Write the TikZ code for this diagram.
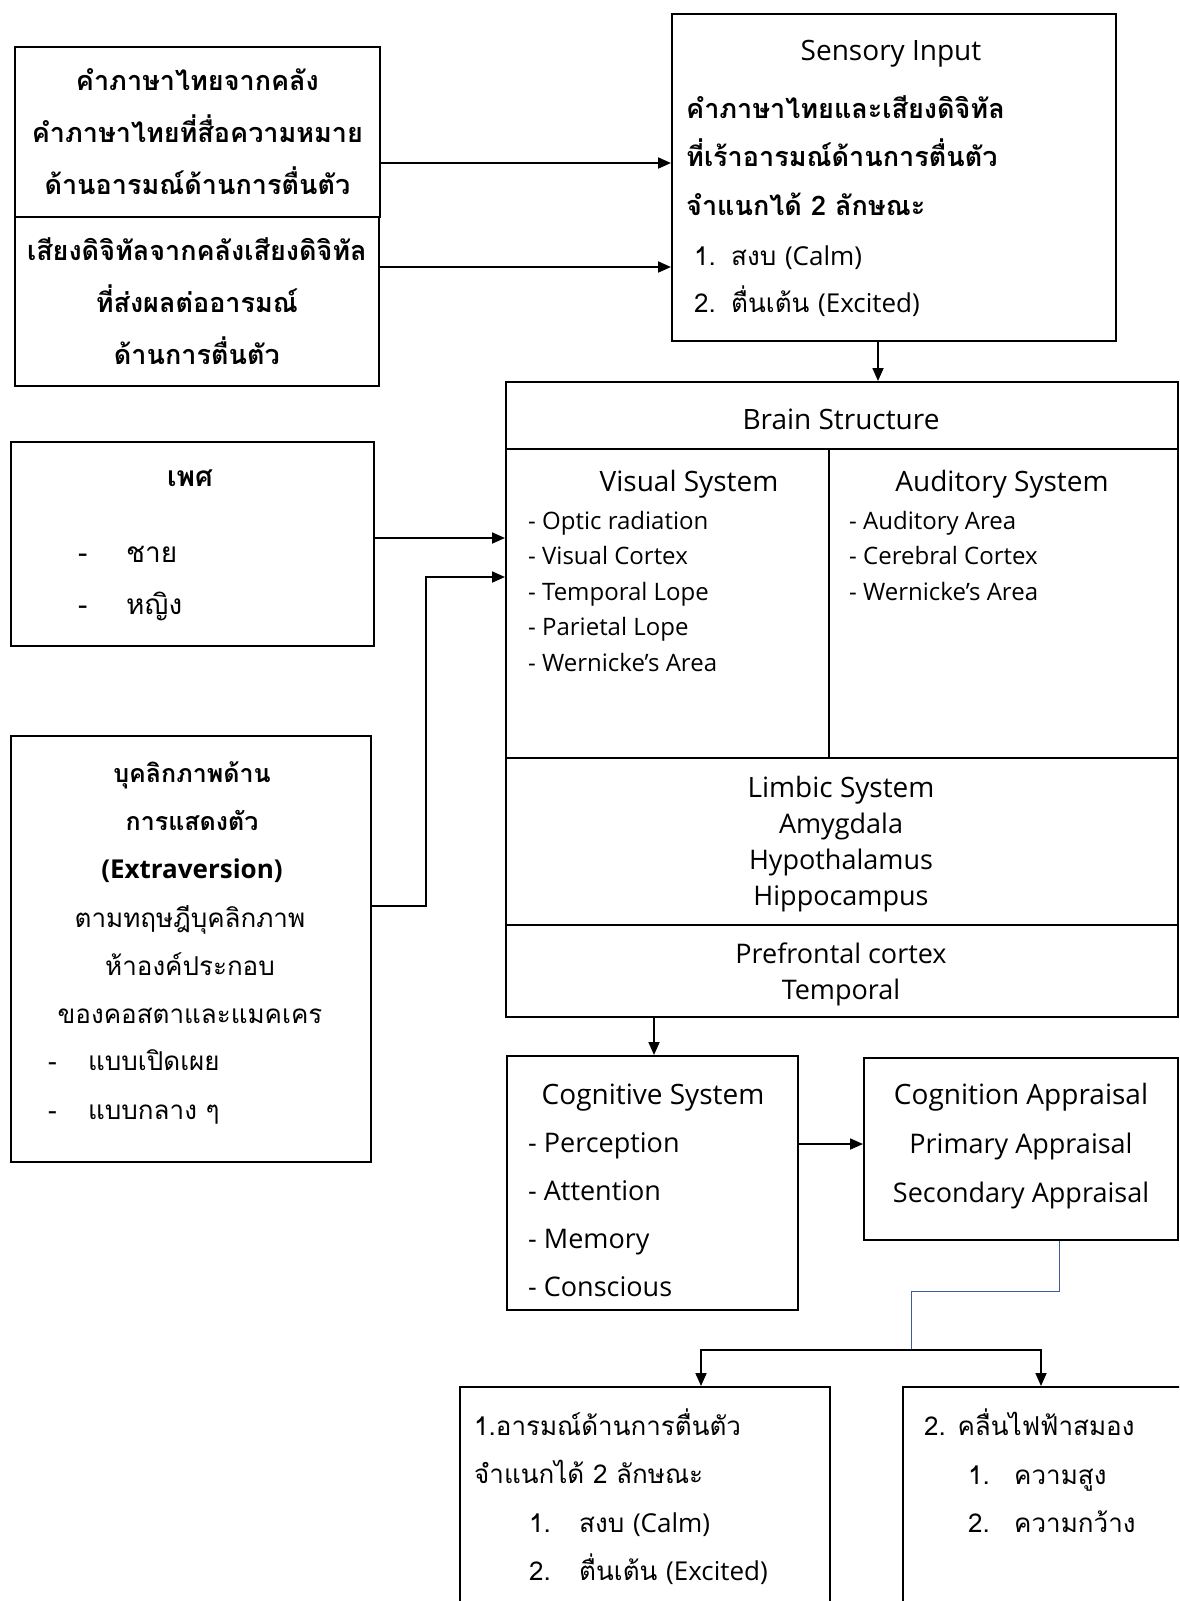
\documentclass[tikz,border=0pt]{standalone}
\usepackage{fontspec}
\setmainfont{Loma}[Script=Thai]
\newfontfamily\latin{Open Sans}
\usetikzlibrary{arrows.meta,positioning}
\definecolor{linkblue}{HTML}{3E5C9A}
\newcommand{\numitem}[2][37pt]{\makebox[#1][l]{#2}}
\tikzset{
  framebox/.style={rectangle, draw=black, line width=1.8pt,
    anchor=north west, inner sep=0pt, align=center},
  linetext/.style={inner sep=0pt, align=left, execute at begin node=\strut},
  thaitext/.style={linetext, font=\fontsize{26}{#1}\selectfont},
  thaitext/.default=48,
  thaibold/.style={linetext, font=\bfseries\fontsize{27}{#1}\selectfont},
  thaibold/.default=48,
  titletext/.style={linetext, font=\latin\fontsize{28}{36}\selectfont},
  listtext/.style={linetext, font=\latin\fontsize{24}{#1}\selectfont},
  listtext/.default=35.5,
  biglist/.style={linetext, font=\latin\fontsize{27}{#1}\selectfont},
  biglist/.default=36,
  flowarrow/.style={-{Triangle[length=13pt,width=11pt]}, line width=1.8pt},
}

\begin{document}
\begin{tikzpicture}[x=1pt, y=-1pt]
\useasboundingbox (0,0) rectangle (1179,1601);
\clip (0,0) rectangle (1179,1601);
% input boxes on the left
\node[framebox, minimum width=365pt, minimum height=170pt, font=\bfseries\fontsize{27}{52}\selectfont] (words) at (14,46)
  {คำภาษาไทยจากคลัง\\คำภาษาไทยที่สื่อความหมาย\\ด้านอารมณ์ด้านการตื่นตัว};
\node[framebox, minimum width=364pt, minimum height=169pt, font=\bfseries\fontsize{27}{52}\selectfont] (sounds) at (14,216)
  {เสียงดิจิทัลจากคลังเสียงดิจิทัล\\ที่ส่งผลต่ออารมณ์\\ด้านการตื่นตัว};
\node[framebox, minimum width=363pt, minimum height=204pt] (gender) at (10,441) {};
\node[linetext, font=\bfseries\fontsize{28}{36}\selectfont, anchor=north] (gendertitle) at (190,461) {เพศ};
\node[linetext, font=\fontsize{28}{52}\selectfont, anchor=north west] (genderlist) at (78,546)
  {\numitem[48pt]{-}ชาย\\\numitem[48pt]{-}หญิง};
\node[framebox, minimum width=360pt, minimum height=426pt] (extra) at (10,735) {};
\node[linetext, font=\bfseries\fontsize{25}{48}\selectfont, align=center, anchor=north] (extratitle) at (192,761)
  {บุคลิกภาพด้าน\\การแสดงตัว\\{\latin\bfseries\fontsize{26}{48}\selectfont (Extraversion)}};
\node[thaitext, align=center, anchor=north] (extrabody) at (190,905)
  {ตามทฤษฎีบุคลิกภาพ\\ห้าองค์ประกอบ\\ของคอสตาและแมคเคร};
\node[thaitext=49, anchor=north west] (extralist) at (48,1049)
  {\numitem[40pt]{-}แบบเปิดเผย\\\numitem[40pt]{-}แบบกลาง ๆ};

% sensory input
\node[framebox, minimum width=444pt, minimum height=327pt] (sensory) at (671,13) {};
\node[titletext, anchor=north] (sensetitle) at (891,35) {Sensory Input};
\node[thaibold=48.5, anchor=north west] (sensebody) at (686,95)
  {คำภาษาไทยและเสียงดิจิทัล\\ที่เร้าอารมณ์ด้านการตื่นตัว\\จำแนกได้ 2 ลักษณะ};
\node[thaitext=47, anchor=north west] (senselist) at (694,246)
  {\numitem{1.}สงบ {\latin(Calm)}\\\numitem{2.}ตื่นเต้น {\latin(Excited)}};

% brain structure
\node[framebox, minimum width=672pt, minimum height=67pt] (brain) at (505,381) {};
\node[titletext, anchor=north] (braintitle) at (841,404) {Brain Structure};
\node[framebox, minimum width=323pt, minimum height=309pt] (visual) at (505,448) {};
\node[framebox, minimum width=349pt, minimum height=309pt] (auditory) at (828,448) {};
\node[titletext, anchor=north] (visualtitle) at (689,466) {Visual System};
\node[listtext, anchor=north west] (visuallist) at (528,511)
  {- Optic radiation\\- Visual Cortex\\- Temporal Lope\\- Parietal Lope\\- Wernicke’s Area};
\node[titletext, anchor=north] (audtitle) at (1002,466) {Auditory System};
\node[listtext, anchor=north west] (audlist) at (849,511)
  {- Auditory Area\\- Cerebral Cortex\\- Wernicke’s Area};
\node[framebox, minimum width=672pt, minimum height=167pt] (limbic) at (505,757) {};
\node[biglist, align=center, anchor=north] (limbictext) at (841,776)
  {{\fontsize{28}{36}\selectfont Limbic System}\\Amygdala\\Hypothalamus\\Hippocampus};
\node[framebox, minimum width=672pt, minimum height=92pt] (prefrontal) at (505,924) {};
\node[biglist, align=center, anchor=north] (prefronttext) at (841,943)
  {Prefrontal cortex\\Temporal};

% cognition
\node[framebox, minimum width=291pt, minimum height=254pt] (cognitive) at (506,1055) {};
\node[titletext, anchor=north] (cogtitle) at (653,1079) {Cognitive System};
\node[biglist=48, anchor=north west] (coglist) at (528,1132)
  {- Perception\\- Attention\\- Memory\\- Conscious};
\node[framebox, minimum width=314pt, minimum height=182pt] (appraisal) at (863,1057) {};
\node[biglist=49, align=center, anchor=north] (apptext) at (1021,1083)
  {{\fontsize{28}{49}\selectfont Cognition Appraisal}\\Primary Appraisal\\Secondary Appraisal};

% outcomes
\node[framebox, minimum width=370pt, minimum height=260pt] (emotion) at (459,1386) {};
\node[thaitext, anchor=north west] (emotext) at (474,1409)
  {1.อารมณ์ด้านการตื่นตัว\\จำแนกได้ 2 ลักษณะ};
\node[thaitext, anchor=north west] (emolist) at (529,1513)
  {\numitem[50pt]{1.}สงบ {\latin(Calm)}\\\numitem[50pt]{2.}ตื่นเต้น {\latin(Excited)}};
\node[framebox, minimum width=320pt, minimum height=260pt] (eeg) at (902,1386) {};
\node[thaitext, anchor=north west] (eegtext) at (924,1402) {2. คลื่นไฟฟ้าสมอง};
\node[thaitext, anchor=north west] (eeglist) at (968,1466)
  {\numitem[46pt]{1.}ความสูง\\\numitem[46pt]{2.}ความกว้าง};

% connectors
\draw[flowarrow] (words.east |- 0,163) -- (sensory.west |- 0,163);
\draw[flowarrow] (sounds.east |- 0,267) -- (sensory.west |- 0,267);
\draw[flowarrow] (sensory.south -| 878,0) -- (brain.north -| 878,0);
\draw[flowarrow] (gender.east |- 0,538) -- (visual.west |- 0,538);
\draw[flowarrow] (extra.east |- 0,906) -| (426,577) -- (visual.west |- 0,577);
\draw[flowarrow] (prefrontal.south -| 654,0) -- (cognitive.north -| 654,0);
\draw[flowarrow] (cognitive.east |- 0,1144) -- (appraisal.west |- 0,1144);
\coordinate (split) at (911,1350);
\draw[linkblue, line width=1pt] (appraisal.south -| 1059,0) |- (911,1291) -- (split);
\draw[flowarrow] (split) -| (emotion.north -| 701,0);
\draw[flowarrow] (split) -| (eeg.north -| 1041,0);
\end{tikzpicture}
\end{document}
